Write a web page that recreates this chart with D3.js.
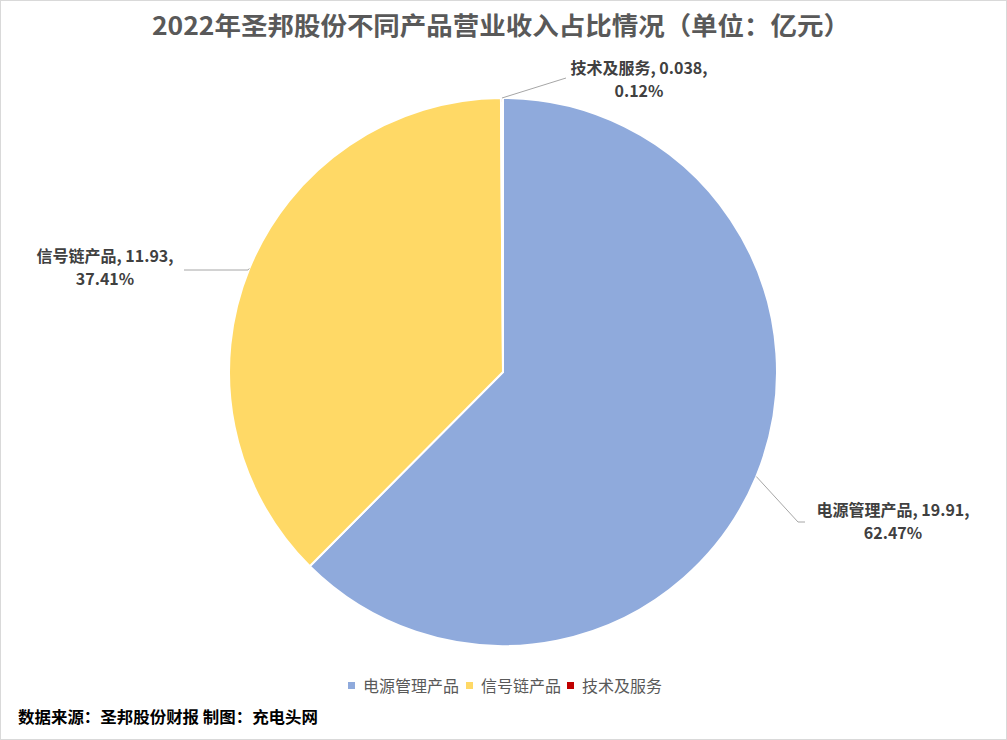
<!DOCTYPE html>
<meta charset="UTF-8">
<head>
    <script src="https://d3js.org/d3.v7.min.js"></script>
    <style>
        body { margin: 0; background: #fff; }
        text { font-family: "Noto Sans CJK SC", "Noto Sans", sans-serif; }
        .label { font-size: 16px; font-weight: bold; fill: #404040; }
        .leader { fill: none; stroke: #a6a6a6; stroke-width: 1px; }
    </style>
</head>
<body>
<script>
    // data (亿元)
    var categories = ["电源管理产品", "信号链产品", "技术及服务"];
    var revenue = [19.91, 11.93, 0.038];
    var shareText = ["62.47%", "37.41%", "0.12%"];
    var colors = ["#8faadc", "#ffd966", "#c00000"];

    var width = 1007, height = 740;

    var svg = d3.select("body")
        .append("svg")
        .attr("width", width)
        .attr("height", height);

    // chart border
    svg.append("rect")
        .attr("x", 0.5).attr("y", 0.5)
        .attr("width", width - 1).attr("height", height - 1)
        .attr("fill", "#fff")
        .attr("stroke", "#d9d9d9");

    // title
    svg.append("text")
        .attr("x", 501).attr("y", 35)
        .attr("text-anchor", "middle")
        .attr("textLength", 698)
        .attr("lengthAdjust", "spacingAndGlyphs")
        .style("font-size", "25px")
        .style("font-weight", "bold")
        .style("fill", "#595959")
        .text("2022年圣邦股份不同产品营业收入占比情况（单位：亿元）");

    var cx = 503, cy = 372, r = 274;

    var pie = d3.pie().sort(null).value(function (d) { return d; });
    var arcs = pie(revenue);
    var arc = d3.arc().innerRadius(0).outerRadius(r);

    var g = svg.append("g").attr("transform", "translate(" + cx + "," + cy + ")");

    g.selectAll("path.slice")
        .data(arcs)
        .enter()
        .append("path")
        .attr("class", "slice")
        .attr("d", arc)
        .attr("fill", function (d, i) { return colors[i]; })
        .attr("stroke", "#fff")
        .attr("stroke-width", 2)
        .attr("stroke-linejoin", "round");

    // point on the pie edge at the slice's middle angle
    function edge(d, rr) {
        var a = (d.startAngle + d.endAngle) / 2;
        return [Math.sin(a) * rr, -Math.cos(a) * rr];
    }

    // labels: leader line bend offsets and text anchor position (relative to center)
    var labelPos = [
        { bend: [295, 150], end: [302, 150], tx: 390, ty: 144, dy: 23 },
        { bend: [-255, -102], end: [-319, -102], tx: -398, ty: -110, dy: 23 },
        { bend: [63, -294], end: [63, -294], tx: 136, ty: -298, dy: 23 }
    ];

    arcs.forEach(function (d, i) {
        var p0 = edge(d, r);
        var lp = labelPos[i];
        var pts = [p0, lp.bend, lp.end];
        g.append("path")
            .attr("class", "leader")
            .attr("d", d3.line()(pts));

        g.append("text")
            .attr("class", "label")
            .attr("text-anchor", "middle")
            .attr("x", lp.tx).attr("y", lp.ty)
            .text(categories[i] + ", " + revenue[i] + ",");
        g.append("text")
            .attr("class", "label")
            .attr("text-anchor", "middle")
            .attr("x", lp.tx).attr("y", lp.ty + lp.dy)
            .text(shareText[i]);
    });

    // legend
    var legendX = [348, 466, 567];
    var legend = svg.append("g");
    categories.forEach(function (c, i) {
        legend.append("rect")
            .attr("x", legendX[i]).attr("y", 682)
            .attr("width", 7).attr("height", 7)
            .attr("fill", colors[i]);
        legend.append("text")
            .attr("x", legendX[i] + 15).attr("y", 692)
            .style("font-size", "16px")
            .style("fill", "#595959")
            .text(c);
    });

    // source note
    svg.append("text")
        .attr("x", 18).attr("y", 723)
        .attr("textLength", 300)
        .attr("lengthAdjust", "spacingAndGlyphs")
        .style("font-size", "16px")
        .style("font-weight", "bold")
        .style("fill", "#000")
        .text("数据来源：圣邦股份财报 制图：充电头网");
</script>
</body>
